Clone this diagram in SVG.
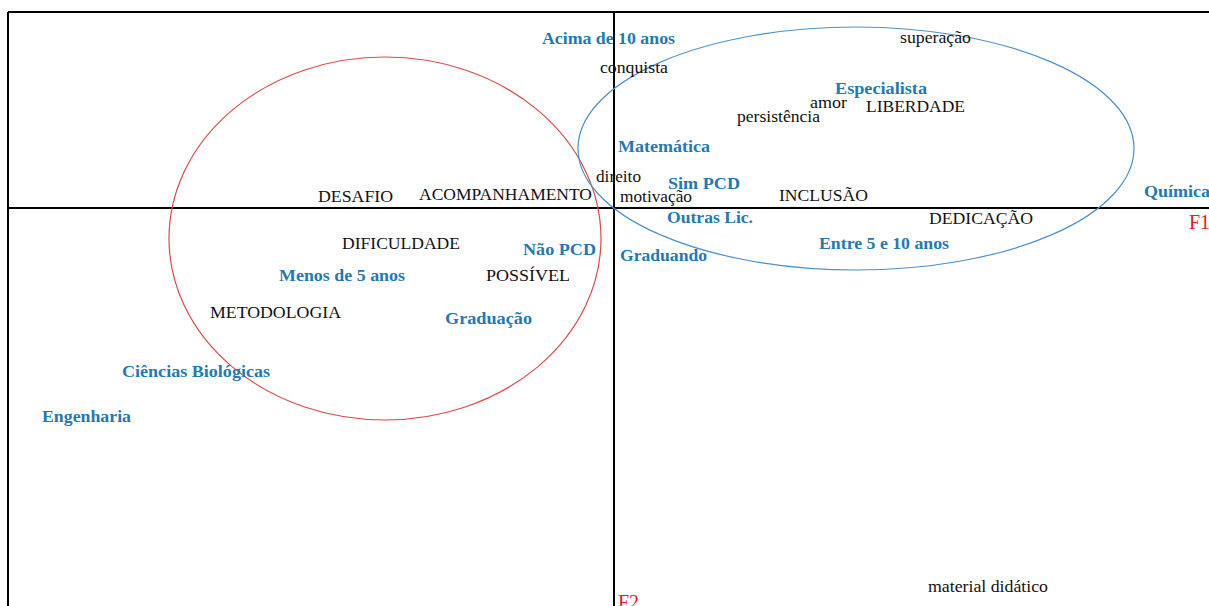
<svg xmlns="http://www.w3.org/2000/svg" width="1209" height="606" viewBox="0 0 1209 606">
<style>
.ax{stroke:#000;stroke-width:2;fill:none}
.t{font-family:"Liberation Serif","Times New Roman",serif;font-size:16px;fill:#111}
.b{font-family:"Liberation Serif","Times New Roman",serif;font-size:16px;font-weight:bold;fill:#2479B5}
.r{font-family:"Liberation Serif","Times New Roman",serif;font-size:20px;fill:#E0201E}
</style>
<rect width="1209" height="606" fill="#fff"/>
<g id="axes">
<line class="ax" x1="8" y1="12" x2="1209" y2="12"/>
<line class="ax" x1="8" y1="12" x2="8" y2="606"/>
<line class="ax" x1="8" y1="208" x2="1209" y2="208"/>
<line class="ax" x1="614" y1="12" x2="614" y2="606"/>
</g>
<g id="clusters">
<ellipse id="red-cluster" cx="385" cy="238.5" rx="216" ry="181.5" fill="none" stroke="#E0484A" stroke-width="1.2"/>
<ellipse id="blue-cluster" cx="856" cy="148.5" rx="278" ry="121.5" fill="none" stroke="#4A92CC" stroke-width="1.2"/>
</g>
<g id="labels">
<text class="b" x="542" y="44" textLength="133" lengthAdjust="spacingAndGlyphs">Acima de 10 anos</text>
<text class="t" x="600" y="73" textLength="68" lengthAdjust="spacingAndGlyphs">conquista</text>
<text class="t" x="900" y="43" textLength="71" lengthAdjust="spacingAndGlyphs">superação</text>
<text class="b" x="835" y="94" textLength="92" lengthAdjust="spacingAndGlyphs">Especialista</text>
<text class="t" x="810" y="108" textLength="37" lengthAdjust="spacingAndGlyphs">amor</text>
<text class="t" x="866" y="112" textLength="99" lengthAdjust="spacingAndGlyphs">LIBERDADE</text>
<text class="t" x="737" y="122" textLength="83" lengthAdjust="spacingAndGlyphs">persistência</text>
<text class="b" x="618" y="152" textLength="92" lengthAdjust="spacingAndGlyphs">Matemática</text>
<text class="t" x="596" y="182" textLength="45" lengthAdjust="spacingAndGlyphs">direito</text>
<text class="b" x="668" y="189" textLength="72" lengthAdjust="spacingAndGlyphs">Sim PCD</text>
<text class="t" x="620" y="202" textLength="72" lengthAdjust="spacingAndGlyphs">motivação</text>
<text class="t" x="318" y="202" textLength="75" lengthAdjust="spacingAndGlyphs">DESAFIO</text>
<text class="t" x="419" y="200" textLength="173" lengthAdjust="spacingAndGlyphs">ACOMPANHAMENTO</text>
<text class="t" x="779" y="201" textLength="89" lengthAdjust="spacingAndGlyphs">INCLUSÃO</text>
<text class="b" x="1144" y="197" textLength="66" lengthAdjust="spacingAndGlyphs">Química</text>
<text class="b" x="667" y="223" textLength="86" lengthAdjust="spacingAndGlyphs">Outras Lic.</text>
<text class="t" x="929" y="224" textLength="104" lengthAdjust="spacingAndGlyphs">DEDICAÇÃO</text>
<text class="r" x="1189" y="229">F1</text>
<text class="b" x="819" y="249" textLength="130" lengthAdjust="spacingAndGlyphs">Entre 5 e 10 anos</text>
<text class="t" x="342" y="249" textLength="118" lengthAdjust="spacingAndGlyphs">DIFICULDADE</text>
<text class="b" x="523" y="255" textLength="73" lengthAdjust="spacingAndGlyphs">Não PCD</text>
<text class="b" x="620" y="261" textLength="87" lengthAdjust="spacingAndGlyphs">Graduando</text>
<text class="b" x="279" y="281" textLength="126" lengthAdjust="spacingAndGlyphs">Menos de 5 anos</text>
<text class="t" x="486" y="281" textLength="84" lengthAdjust="spacingAndGlyphs">POSSÍVEL</text>
<text class="t" x="210" y="318" textLength="131" lengthAdjust="spacingAndGlyphs">METODOLOGIA</text>
<text class="b" x="445" y="324" textLength="87" lengthAdjust="spacingAndGlyphs">Graduação</text>
<text class="b" x="122" y="377" textLength="148" lengthAdjust="spacingAndGlyphs">Ciências Biológicas</text>
<text class="b" x="42" y="422" textLength="89" lengthAdjust="spacingAndGlyphs">Engenharia</text>
<text class="t" x="928" y="592" textLength="120" lengthAdjust="spacingAndGlyphs">material  didático</text>
<text class="r" x="618" y="609">F2</text>
</g>
</svg>
